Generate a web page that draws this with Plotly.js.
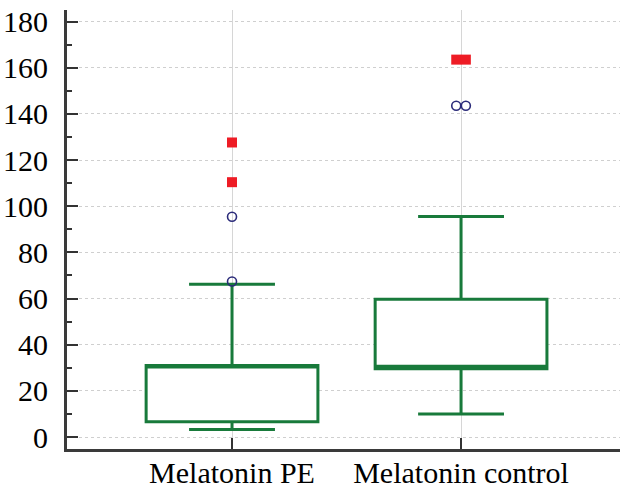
<!DOCTYPE html>
<html>
<head>
<meta charset="utf-8">
<script src="https://cdn.plot.ly/plotly-3.0.1.min.js"></script>
<style>html,body{margin:0;padding:0;background:#fff;}#chart{width:622px;height:493px;}</style>
</head>
<body>
<div id="chart"></div>
<script>
// ---- data ----
var categories = ["Melatonin PE", "Melatonin control"];
var q1 = [6.6, 29.6];
var medians = [30.3, 30.6];
var q3 = [31.0, 59.7];
var lowerWhisker = [3.3, 10.0];
var upperWhisker = [66.2, 95.5];
// outside values (open circles) and far-out values (red squares)
var outsidePE = [95.4, 67.4];
var outsideControl = [143.5, 143.5];
var farOutPE = [127.6, 110.4];
var farOutControl = [163.5, 163.5];
var yTicks = [0, 20, 40, 60, 80, 100, 120, 140, 160, 180];

// ---- styles ----
var GREEN = "#187a3b";
var NAVY = "#2b2b7a";
var RED = "#ee1c25";
var DUP_SHIFT = 0.021;
var FONT = "Liberation Serif";

function xsFor(idx, vals) {
  var counts = {}, seen = {};
  vals.forEach(function (v) { counts[v] = (counts[v] || 0) + 1; });
  return vals.map(function (v) {
    var n = counts[v];
    var k = seen[v] || 0;
    seen[v] = k + 1;
    return idx + (k - (n - 1) / 2) * 2 * DUP_SHIFT;
  });
}

var traces = [];
categories.forEach(function (c, i) {
  traces.push({
    type: "box",
    name: c,
    x: [i],
    q1: [q1[i]],
    median: [medians[i]],
    q3: [q3[i]],
    lowerfence: [lowerWhisker[i]],
    upperfence: [upperWhisker[i]],
    width: 0.75,
    whiskerwidth: 0.5,
    boxpoints: false,
    fillcolor: "white",
    line: { color: GREEN, width: 3 },
    showlegend: false,
    hoverinfo: "skip"
  });
});

var outsideSets = [outsidePE, outsideControl];
var farSets = [farOutPE, farOutControl];
outsideSets.forEach(function (vals, i) {
  traces.push({
    type: "scatter", mode: "markers",
    x: xsFor(i, vals), y: vals,
    marker: { symbol: "circle-open", size: 9, color: NAVY, line: { width: 1.6, color: NAVY } },
    showlegend: false
  });
});
farSets.forEach(function (vals, i) {
  traces.push({
    type: "scatter", mode: "markers",
    x: xsFor(i, vals), y: vals,
    marker: { symbol: "square", size: 10, color: RED },
    showlegend: false
  });
});

var layout = {
  width: 622, height: 493,
  margin: { l: 67, r: 2, t: 10, b: 44 },
  paper_bgcolor: "white", plot_bgcolor: "white",
  font: { family: FONT, size: 30, color: "#000" },
  showlegend: false,
  xaxis: {
    type: "linear",
    range: [-0.7205, 1.694],
    tickvals: [0, 1],
    ticktext: categories,
    ticks: "inside", ticklen: 11, tickwidth: 2, tickcolor: "#333",
    showline: true, linecolor: "#3a3a3a", linewidth: 3,
    showgrid: true, gridcolor: "#d6d6d6", gridwidth: 1,
    zeroline: false,
    ticklabelstandoff: -5,
    tickfont: { family: FONT, size: 30, color: "#000" }
  },
  yaxis: {
    range: [-5.2, 185],
    tickvals: yTicks,
    ticks: "inside", ticklen: 11, tickwidth: 2, tickcolor: "#333",
    minor: { dtick: 10, ticks: "inside", ticklen: 5, tickwidth: 2, tickcolor: "#333", showgrid: false },
    showline: true, linecolor: "#3a3a3a", linewidth: 3,
    showgrid: true, gridcolor: "#cfcfcf", gridwidth: 1, griddash: "dot",
    zeroline: false,
    ticklabelstandoff: 10,
    tickfont: { family: FONT, size: 30, color: "#000" }
  }
};

Plotly.newPlot("chart", traces, layout, { displayModeBar: false, staticPlot: true });
</script>
</body>
</html>
